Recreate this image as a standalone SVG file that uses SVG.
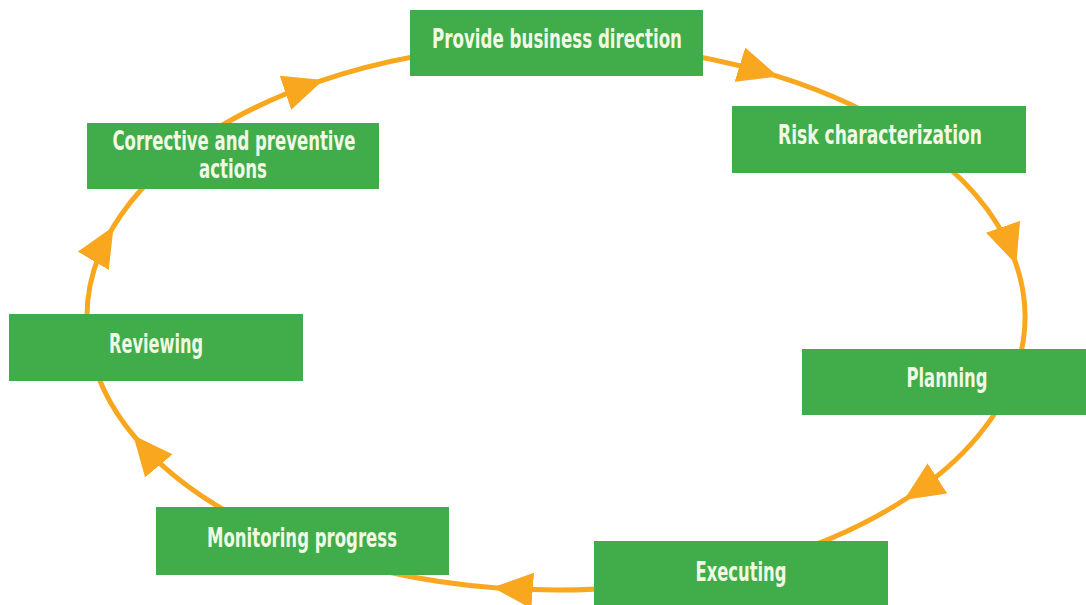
<svg xmlns="http://www.w3.org/2000/svg" width="1086" height="605" viewBox="0 0 1086 605">
<style>
.box{fill:#40AD4A}
.lbl{font-family:"Liberation Sans Narrow","DejaVu Sans Condensed","Liberation Sans",sans-serif;font-weight:bold;font-size:27px;fill:#F1F8E4;text-anchor:middle}
.conn{fill:none;stroke:#F8A71E;stroke-width:5;marker-mid:url(#ah)}
</style>
<defs>
<marker id="ah" markerUnits="userSpaceOnUse" viewBox="0 0 40 36" markerWidth="40" markerHeight="36" refX="38" refY="18" orient="auto">
<path d="M0,0 L40,18 L0,36 z" fill="#F8A71E"/>
</marker>
</defs>
<rect width="1086" height="605" fill="#FFFFFF"/>
<g id="connectors">
<path class="conn" d="M556,44 A469,273 0 0 1 776.2,75.95 A469,273 0 0 1 915.3,141.5"/>
<path class="conn" d="M915.3,141.5 A469,273 0 0 1 1015.6,262.6 A469,273 0 0 1 1017.9,364.4"/>
<path class="conn" d="M1017.9,364.4 A469,273 0 0 1 905.6,499.0 A469,273 0 0 1 716.4,573.5"/>
<path class="conn" d="M716.4,573.5 A469,273 0 0 1 494.8,587.7 A469,273 0 0 1 287.0,540.6"/>
<path class="conn" d="M287.0,540.6 A469,273 0 0 1 134.5,436.7 A469,273 0 0 1 88.8,340.8"/>
<path class="conn" d="M88.8,340.8 A469,273 0 0 1 112.6,228.1 A469,273 0 0 1 207.5,134.3"/>
<path class="conn" d="M207.5,134.3 A469,273 0 0 1 321.5,80.6 A469,273 0 0 1 556,44"/>
</g>
<g id="provide">
<rect class="box" x="410" y="10" width="293" height="66"/>
<text class="lbl" x="557" y="48" textLength="250" lengthAdjust="spacingAndGlyphs">Provide business direction</text>
</g>
<g id="risk">
<rect class="box" x="732" y="106" width="294" height="67"/>
<text class="lbl" x="880" y="144" textLength="204" lengthAdjust="spacingAndGlyphs">Risk characterization</text>
</g>
<g id="planning">
<rect class="box" x="802" y="349" width="284" height="66"/>
<text class="lbl" x="947" y="387" textLength="81" lengthAdjust="spacingAndGlyphs">Planning</text>
</g>
<g id="executing">
<rect class="box" x="594" y="541" width="294" height="64"/>
<text class="lbl" x="741" y="581" textLength="91" lengthAdjust="spacingAndGlyphs">Executing</text>
</g>
<g id="monitoring">
<rect class="box" x="156" y="507" width="293" height="68"/>
<text class="lbl" x="302" y="547" textLength="190" lengthAdjust="spacingAndGlyphs">Monitoring progress</text>
</g>
<g id="reviewing">
<rect class="box" x="9" y="314" width="294" height="67"/>
<text class="lbl" x="156" y="353" textLength="94" lengthAdjust="spacingAndGlyphs">Reviewing</text>
</g>
<g id="corrective">
<rect class="box" x="87" y="123" width="292" height="66"/>
<text class="lbl" x="234" y="150" textLength="243" lengthAdjust="spacingAndGlyphs">Corrective and preventive</text>
<text class="lbl" x="233" y="178" textLength="68" lengthAdjust="spacingAndGlyphs">actions</text>
</g>
</svg>
